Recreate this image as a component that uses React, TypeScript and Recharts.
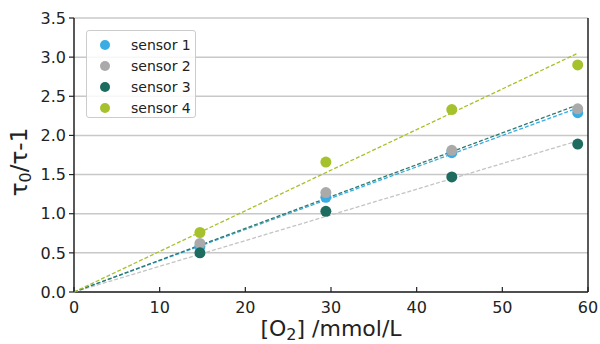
import React from 'react';
import { ScatterChart, Scatter, XAxis, YAxis, CartesianGrid } from 'recharts';

const concentrations = [14.7, 29.4, 44.1, 58.8];
const sensorNames = ['sensor 1', 'sensor 2', 'sensor 3', 'sensor 4'];
const sensorColors = ['#3aace4', '#aaaaaa', '#1e6b5f', '#a5c22c'];
const sensor1 = [0.58, 1.21, 1.78, 2.29];
const sensor2 = [0.62, 1.27, 1.81, 2.34];
const sensor3 = [0.5, 1.03, 1.47, 1.89];
const sensor4 = [0.76, 1.66, 2.33, 2.9];

// linear fits through the origin (endpoints), drawn dashed
const fitX = [0, 58.8];
const fitColors = ['#3aace4', '#c4c4c4', '#2f7a6e', '#a5c22c'];
const fit1 = [0, 2.35];
const fit2 = [0, 1.93];
const fit3 = [0, 2.39];
const fit4 = [0, 3.05];

const xTicks = [0, 10, 20, 30, 40, 50, 60];
const yTicks = [0, 0.5, 1, 1.5, 2, 2.5, 3, 3.5];

const FONT = 'DejaVu Sans';
const AXIS = '#222';

const toPoints = (xs: number[], ys: number[]) => xs.map((x, i) => ({ x, y: ys[i] }));

const sensors = [sensor1, sensor2, sensor3, sensor4].map((ys, i) => ({
  name: sensorNames[i],
  color: sensorColors[i],
  data: toPoints(concentrations, ys),
}));

const fits = [fit1, fit2, fit3, fit4].map((ys, i) => ({
  color: fitColors[i],
  data: toPoints(fitX, ys),
}));

const BottomTick = (props: any) => {
  const { x, y, payload } = props;
  return (
    <g>
      <line x1={x} x2={x} y1={y} y2={y - 5} stroke={AXIS} strokeWidth={1.2} />
      <text x={x} y={y + 21} textAnchor="middle" fontSize={16} fill="#222" fontFamily={FONT}>
        {payload.value}
      </text>
    </g>
  );
};

const RightTick = (props: any) => {
  const { x, y } = props;
  return <line x1={x} x2={x - 5} y1={y} y2={y} stroke={AXIS} strokeWidth={1.2} />;
};

const App: React.FC = () => {
  return (
    <div style={{ position: 'absolute', left: 0, top: 0, width: 600, height: 344, background: '#fff' }}>
      <ScatterChart width={600} height={344} margin={{ top: 18, right: 0, bottom: 0, left: 0 }}>
        <CartesianGrid vertical={false} stroke="#c8c8c8" strokeWidth={1.5} />
        <XAxis
          type="number"
          dataKey="x"
          domain={[0, 60]}
          ticks={xTicks}
          height={52}
          axisLine={{ stroke: AXIS, strokeWidth: 1.5 }}
          tickLine={false}
          tickSize={0}
          tickMargin={0}
          tick={<BottomTick />}
          label={{
            content: () => (
              <text x={331} y={336} textAnchor="middle" fontSize={22} fill="#222" fontFamily={FONT}>
                [O<tspan dy={4} fontSize={16}>2</tspan>
                <tspan dy={-4}>] /mmol/L</tspan>
              </text>
            ),
          }}
        />
        <XAxis
          xAxisId="top"
          orientation="top"
          type="number"
          domain={[0, 60]}
          height={0}
          tick={false}
          tickLine={false}
          axisLine={{ stroke: AXIS, strokeWidth: 1.5 }}
        />
        <YAxis
          type="number"
          dataKey="y"
          domain={[0, 3.5]}
          ticks={yTicks}
          width={74}
          tickFormatter={(v: number) => v.toFixed(1)}
          tick={{ fill: '#222', fontSize: 16, fontFamily: FONT }}
          tickSize={5}
          tickMargin={3}
          tickLine={{ stroke: AXIS, strokeWidth: 1.2 }}
          axisLine={{ stroke: AXIS, strokeWidth: 1.5 }}
          label={{
            content: () => (
              <text
                x={27}
                y={162}
                transform="rotate(-90, 27, 162)"
                textAnchor="middle"
                fontSize={23}
                fill="#222"
                fontFamily={FONT}
              >
                τ<tspan dy={4} fontSize={16}>0</tspan>
                <tspan dy={-4}>/τ-1</tspan>
              </text>
            ),
          }}
        />
        <YAxis
          yAxisId="right"
          orientation="right"
          type="number"
          domain={[0, 3.5]}
          ticks={yTicks}
          width={12}
          tickLine={false}
          tickSize={0}
          tickMargin={0}
          tick={<RightTick />}
          axisLine={{ stroke: AXIS, strokeWidth: 1.5 }}
        />
        {fits.map((f, i) => (
          <Scatter
            key={`fit-${i}`}
            data={f.data}
            line={{ stroke: f.color, strokeWidth: 1.3, strokeDasharray: '4 2' }}
            shape={() => <g />}
            legendType="none"
            isAnimationActive={false}
          />
        ))}
        {sensors.map((s) => (
          <Scatter
            key={s.name}
            name={s.name}
            data={s.data}
            fill={s.color}
            shape={(p: any) => <circle cx={p.cx} cy={p.cy} r={5.5} fill={s.color} />}
            isAnimationActive={false}
          />
        ))}
      </ScatterChart>
      <div
        style={{
          position: 'absolute',
          left: 86,
          top: 30,
          width: 108,
          height: 86,
          border: '1px solid #cccccc',
          borderRadius: 3,
          background: 'rgba(255,255,255,0.85)',
          fontFamily: FONT,
          fontSize: 14,
          color: '#222',
        }}
      >
        {sensors.map((s, i) => (
          <div
            key={s.name}
            style={{ position: 'absolute', left: 0, top: 3 + i * 21, height: 21, display: 'flex', alignItems: 'center' }}
          >
            <span
              style={{
                display: 'inline-block',
                width: 10,
                height: 10,
                borderRadius: 5,
                background: s.color,
                marginLeft: 13,
              }}
            />
            <span style={{ marginLeft: 21 }}>{s.name}</span>
          </div>
        ))}
      </div>
    </div>
  );
};

export default App;
